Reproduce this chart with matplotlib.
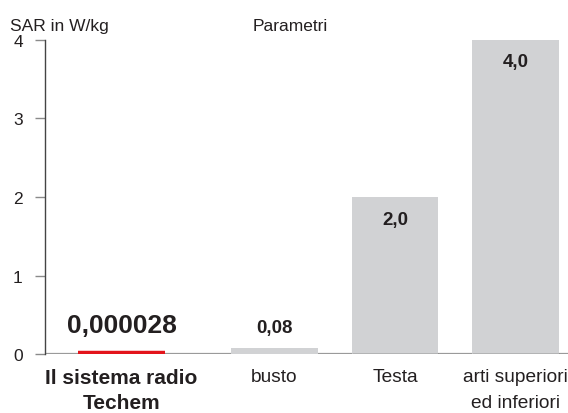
import matplotlib
matplotlib.use("Agg")
import matplotlib.pyplot as plt

# values
categories = ["Il sistema radio\nTechem", "busto", "Testa", "arti superiori\ned inferiori"]
positions = [0.0, 1.27, 2.27, 3.27]
values = [0.000028, 0.08, 2.0, 4.0]
value_labels = ["0,000028", "0,08", "2,0", "4,0"]
y_ticks = [0, 1, 2, 3, 4]

plt.rcParams["font.family"] = ["Liberation Sans", "DejaVu Sans"]
TEXT = "#231f20"
GREY_BAR = "#d1d2d4"
RED = "#e3141b"
W = 0.72

fig = plt.figure(figsize=(5.68, 4.14), dpi=100)
ax = fig.add_axes([0.0792, 0.1415, 0.9208, 0.7605])

# grey reference bars (all but the first one)
ax.bar(positions[1:], values[1:], width=W, color=GREY_BAR, zorder=2)
for x, v in zip(positions[1:], values[1:]):
    if v >= 1:
        ax.hlines(0.006, x - W / 2, x + W / 2, color="#3a3a3a", lw=1, zorder=3)

# the Techem value is far too small to see, so it is drawn as a red line
ax.hlines(values[0] + 0.02, positions[0] - W / 2, positions[0] + W / 2,
          color=RED, lw=3.2, zorder=4)

ax.axhline(0, color="#9a9a9a", lw=1.6, zorder=1)

# value labels
for i, (x, v, lab) in enumerate(zip(positions, values, value_labels)):
    if v >= 1:
        y, size = v - 0.28, 13.5
    else:
        y, size = 0.34, 13.5
    if i == 0:
        size = 19
        y = 0.37
    ax.text(x, y, lab, ha="center", va="center", fontsize=size,
            fontweight="bold", color=TEXT, zorder=5)

ax.set_xlim(-0.635, 3.705)
ax.set_ylim(0, 4)
ax.set_yticks(y_ticks)
ax.set_yticklabels([str(t) for t in y_ticks], fontsize=12.5, color=TEXT)
ax.tick_params(axis="y", length=7, width=1, color="#8a8a8a", pad=9)
ax.tick_params(axis="x", length=0, pad=10)
ax.set_xticks(positions)
ax.set_xticklabels(categories, fontsize=13.8, color=TEXT, linespacing=1.65)
first = ax.get_xticklabels()[0]
first.set_fontweight("bold")
first.set_fontsize(15)
first.set_linespacing(1.4)

for side in ["top", "right", "bottom"]:
    ax.spines[side].set_visible(False)
ax.spines["left"].set_color("#444444")
ax.spines["left"].set_linewidth(1)

fig.text(10 / 568, 1 - 31 / 414, "SAR in W/kg", fontsize=12.5, color=TEXT,
         ha="left", va="baseline")
fig.text(253 / 568, 1 - 31 / 414, "Parametri", fontsize=12.5, color=TEXT,
         ha="left", va="baseline")

fig.savefig("out.png", dpi=100)
